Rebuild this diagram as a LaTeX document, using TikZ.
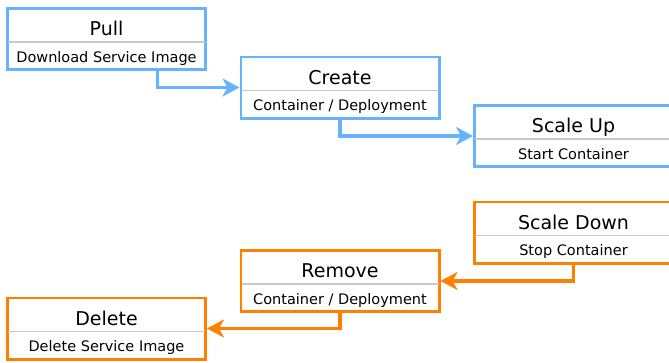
\documentclass[tikz,border=0pt]{standalone}
\usepackage{fontspec}
\setmainfont{DejaVu Sans}
\usetikzlibrary{arrows.meta}
\definecolor{upblue}{HTML}{66B2FF}
\definecolor{downorange}{HTML}{FF8000}
\definecolor{rulegray}{HTML}{C8C8C8}
\tikzset{
  stagebox/.style={draw=#1, line width=2.6pt, fill=white,
    minimum width=198.4pt, minimum height=61.4pt, inner sep=0pt},
  stagetitle/.style={anchor=base, inner sep=0pt, font=\fontsize{19}{21}\selectfont},
  stagesub/.style={anchor=base, inner sep=0pt, font=\fontsize{14.5}{17}\selectfont},
  divider/.style={draw=rulegray, line width=1.2pt},
  flow/.style={draw=#1, line width=3.6pt,
    -{Stealth[length=17pt, width=18pt, inset=5pt]}},
}
% one stage: name, centre x, centre y, colour, title, subtitle
\newcommand\stagenode[6]{%
  \node[stagebox=#4] (#1) at (#2,#3) {};
  \draw[divider] ([yshift=-35pt,xshift=2pt]#1.north west) -- ([yshift=-35pt,xshift=-2pt]#1.north east);
  \node[stagetitle] (#1-title) at ([yshift=-28.5pt]#1.north) {#5};
  \node[stagesub] (#1-sub) at ([yshift=-55pt]#1.north) {#6};
}
\begin{document}
\begin{tikzpicture}[x=1pt, y=-1pt]
  \useasboundingbox (0,0) rectangle (669,362);
  \clip (0,0) rectangle (669,362);
  \fill[white] (0,0) rectangle (669,362);

  \stagenode{pull}{106.5}{39}{upblue}{Pull}{Download Service Image}
  \stagenode{create}{340}{87.5}{upblue}{Create}{Container / Deployment}
  \stagenode{scaleup}{573.5}{136}{upblue}{Scale Up}{Start Container}

  \stagenode{scaledown}{573.5}{232.5}{downorange}{Scale Down}{Stop Container}
  \stagenode{remove}{340}{281}{downorange}{Remove}{Container / Deployment}
  \stagenode{delete}{106.5}{328.5}{downorange}{Delete}{Delete Service Image}

  \draw[flow=upblue] ([xshift=51pt]pull.south) |- (create.west);
  \draw[flow=upblue] (create.south) |- (scaleup.west);
  \draw[flow=downorange] (scaledown.south) |- (remove.east);
  \draw[flow=downorange] (remove.south) |- (delete.east);
\end{tikzpicture}
\end{document}
